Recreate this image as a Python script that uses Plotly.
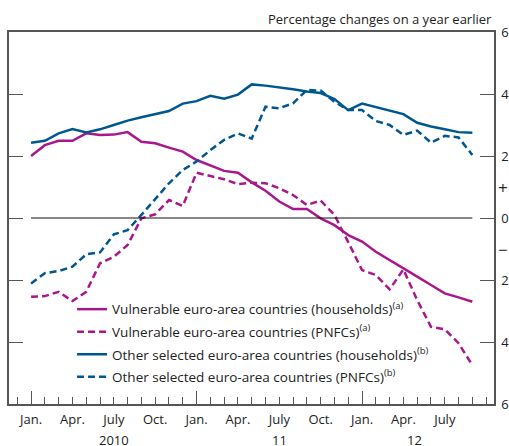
import plotly.graph_objects as go

# month index 0 = Jan 2010 ... 32 = Sep 2012
months = list(range(33))

vuln_households = [2.00, 2.35, 2.49, 2.49, 2.73, 2.68, 2.69, 2.77, 2.46, 2.41, 2.27, 2.14,
                   1.87, 1.69, 1.52, 1.46, 1.15, 0.88, 0.53, 0.29, 0.29, -0.01, -0.23, -0.55,
                   -0.76, -1.09, -1.35, -1.62, -1.89, -2.16, -2.43, -2.56, -2.70]
vuln_pnfcs = [-2.54, -2.52, -2.38, -2.68, -2.38, -1.46, -1.25, -0.87, -0.01, 0.12, 0.58, 0.39,
              1.46, 1.35, 1.25, 1.09, 1.14, 1.12, 0.96, 0.74, 0.42, 0.56, 0.10, -0.78,
              -1.68, -1.84, -2.30, -1.66, -2.65, -3.51, -3.59, -4.04, -4.75]
other_households = [2.43, 2.49, 2.73, 2.87, 2.76, 2.86, 3.00, 3.14, 3.25, 3.35, 3.45, 3.69,
                    3.77, 3.94, 3.85, 3.98, 4.31, 4.27, 4.22, 4.15, 4.08, 4.03, 3.84, 3.48,
                    3.69, 3.57, 3.46, 3.35, 3.07, 2.95, 2.86, 2.77, 2.75]
other_pnfcs = [-2.11, -1.78, -1.71, -1.57, -1.17, -1.11, -0.53, -0.39, 0.10, 0.60, 1.12, 1.55,
               1.82, 2.19, 2.52, 2.73, 2.56, 3.59, 3.54, 3.70, 4.13, 4.11, 3.75, 3.48,
               3.48, 3.13, 3.00, 2.68, 2.82, 2.43, 2.65, 2.60, 2.03]

series_names = [
    "Vulnerable euro-area countries (households)<sup>(a)</sup>",
    "Vulnerable euro-area countries (PNFCs)<sup>(a)</sup>",
    "Other selected euro-area countries (households)<sup>(b)</sup>",
    "Other selected euro-area countries (PNFCs)<sup>(b)</sup>",
]

month_tick_vals = [0, 3, 6, 9, 12, 15, 18, 21, 24, 27, 30]
month_tick_text = ["Jan.", "Apr.", "July", "Oct.", "Jan.", "Apr.", "July", "Oct.", "Jan.", "Apr.", "July"]
year_tick_vals = [0, 12, 24]
year_label_pos = [6, 18, 27.8]
year_labels = ["2010", "11", "12"]

y_tick_vals = [-6, -4, -2, 0, 2, 4, 6]
y_tick_text = ["6", "4", "2", "0", "2", "4", "6"]
sign_vals = [1, -1]
sign_text = ["+", "\u2212"]

MAGENTA = "#A8188C"
BLUE = "#00578F"
AXIS = "#555555"
TEXT = "#222222"
FONT = "Open Sans"

fig = go.Figure()
series = [vuln_households, vuln_pnfcs, other_households, other_pnfcs]
colors = [MAGENTA, MAGENTA, BLUE, BLUE]
dashes = ["solid", "7px,4px", "solid", "7px,4px"]
for i, (vals, name, c, d) in enumerate(zip(series, series_names, colors, dashes)):
    fig.add_trace(go.Scatter(x=months, y=vals, mode="lines", name=name,
                             legendgroup=f"g{i}",
                             line=dict(color=c, width=2.5, dash=d)))

# zero reference line spanning data range (on overlay axis so it is drawn)
fig.add_trace(go.Scatter(x=[months[0], months[-1]], y=[0, 0], mode="lines",
                         line=dict(color="#111111", width=1), showlegend=False,
                         hoverinfo="skip", xaxis="x2"))

fig.update_layout(
    template="none",
    width=509, height=446,
    margin=dict(l=9, r=15, t=32, b=42, autoexpand=False),
    paper_bgcolor="white", plot_bgcolor="white",
    font=dict(family=FONT, size=13, color=TEXT),
    showlegend=True,
    legend=dict(x=0.130, y=0.296, xanchor="left", yanchor="top",
                bgcolor="rgba(0,0,0,0)", traceorder="grouped", tracegroupgap=2,
                font=dict(family=FONT, size=13.5, color=TEXT), itemwidth=30),
    xaxis=dict(range=[-1.6, 33.57], tickmode="array", tickvals=month_tick_vals,
               ticktext=month_tick_text, ticks="inside", ticklen=7, tickwidth=1.3,
               tickcolor=AXIS, showline=True, linecolor=AXIS, linewidth=1.5, mirror=True,
               showgrid=False, zeroline=False, automargin=False, ticklabelstandoff=3,
               tickfont=dict(size=13, color=TEXT),
               minor=dict(dtick=1, tick0=0, ticks="inside", ticklen=7, tickwidth=1.3,
                          tickcolor=AXIS, showgrid=False)),
    xaxis2=dict(overlaying="x", matches="x", side="bottom", anchor="y",
                tickmode="array", tickvals=year_tick_vals, ticks="inside", ticklen=13,
                tickwidth=1.3, tickcolor=AXIS, showticklabels=False, showgrid=False,
                zeroline=False, showline=False, automargin=False),
    yaxis=dict(range=[-6, 6], side="right", tickmode="array", tickvals=y_tick_vals,
               ticktext=y_tick_text, ticks="inside", ticklen=14, tickwidth=1.3,
               tickcolor=AXIS, showline=True, linecolor=AXIS, linewidth=1.5,
               mirror="ticks", showgrid=False, zeroline=False, automargin=False,
               ticklabelstandoff=3, tickfont=dict(size=13, color=TEXT)),
)

annotations = [dict(text="Percentage changes on a year earlier", xref="paper", yref="paper",
                    x=1, y=1 + 13 / 372, xanchor="right", yanchor="middle", showarrow=False,
                    font=dict(size=13, color=TEXT))]
for v, t in zip(sign_vals, sign_text):
    annotations.append(dict(text=t, xref="paper", yref="y", x=1, y=v, xanchor="left",
                            yanchor="middle", xshift=2, showarrow=False,
                            font=dict(size=17, color=TEXT)))
for p, t in zip(year_label_pos, year_labels):
    annotations.append(dict(text=t, xref="x", yref="paper", x=p, y=-25 / 372,
                            xanchor="center", yanchor="top", showarrow=False,
                            font=dict(size=13, color=TEXT)))
fig.update_layout(annotations=annotations)

fig.write_html("out.html", config={"displayModeBar": False},
               post_script="document.body.style.margin='0';document.body.style.overflow='hidden';")
